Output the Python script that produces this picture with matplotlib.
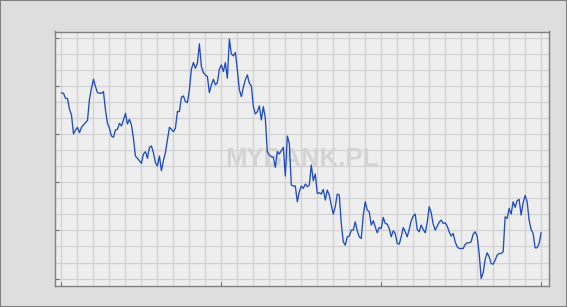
import numpy as np
import matplotlib
matplotlib.use("Agg")
import matplotlib.pyplot as plt
from matplotlib.patches import Rectangle

# notowania (jednostki umowne)
kurs = [
    611, 610, 595, 594, 562, 545, 488, 500, 508, 492,
    508, 515, 522, 528, 592, 625, 652, 630, 612, 610,
    610, 615, 560, 520, 505, 482, 478, 500, 502, 520,
    512, 530, 550, 518, 532, 515, 475, 422, 415, 408,
    400, 428, 435, 415, 448, 452, 432, 402, 392, 422,
    378, 408, 432, 470, 508, 502, 495, 505, 555, 555,
    598, 602, 585, 582, 620, 682, 702, 685, 700, 758,
    690, 672, 665, 660, 612, 635, 652, 635, 642, 682,
    695, 675, 702, 655, 772, 728, 722, 732, 680, 620,
    600, 628, 650, 665, 640, 632, 570, 548, 555, 572,
    530, 570, 535, 435, 425, 420, 418, 388, 435, 428,
    438, 448, 362, 482, 460, 335, 332, 332, 285, 315,
    332, 325, 338, 330, 335, 395, 348, 368, 310, 312,
    308, 322, 290, 320, 305, 275, 248, 270, 308, 305,
    220, 165, 155, 180, 182, 200, 200, 225, 198, 180,
    175, 245, 285, 260, 255, 215, 228, 210, 192, 208,
    205, 238, 220, 218, 205, 180, 198, 190, 160, 158,
    180, 208, 195, 180, 202, 228, 242, 248, 202, 195,
    215, 202, 192, 222, 270, 252, 218, 200, 212, 224,
    230, 220, 222, 212, 195, 182, 190, 165, 150, 145,
    145, 145, 157, 162, 162, 165, 188, 195, 182, 130,
    55, 72, 112, 132, 120, 100, 98, 110, 125, 130,
    130, 135, 240, 235, 265, 248, 285, 268, 288, 292,
    245, 282, 304, 285, 230, 202, 190, 147, 147, 160,
    192,
]
dni = np.arange(len(kurs))

xgrid = np.arange(0, 241, 8)
ygrid = np.arange(55, 800, 48)
xticks = [0, 80, 160, 240]
yticks = [55, 199, 343, 487, 631, 775]

fig = plt.figure(figsize=(5.67, 3.07), dpi=100)
fig.patch.set_facecolor("#dedede")
fig.patches.append(Rectangle((0, 0), 1, 1, transform=fig.transFigure,
                             fill=False, edgecolor="#808080", linewidth=1.5))

ax = fig.add_axes([54.5 / 567, 21.5 / 307, 494 / 567, 254 / 307])
ax.set_facecolor("#eeeeee")

for x in xgrid:
    ax.axvline(x, color="#d2d2d2", lw=0.9, zorder=1)
for y in ygrid:
    ax.axhline(y, color="#d2d2d2", lw=0.9, zorder=1)

ax.text(0.5, 0.5, "MYBANK.PL", transform=ax.transAxes, ha="center", va="center",
        fontsize=18.5, fontweight="bold", family="Liberation Sans",
        color="#d4d4d4", zorder=2)

ax.plot(dni, kurs, color="#1f4cc0", lw=0.95, zorder=3)

ax.set_xlim(-3.5, 243.7)
ax.set_ylim(34.1, 795)
ax.set_xticks(xticks)
ax.set_yticks(yticks)
ax.set_xticklabels([])
ax.set_yticklabels([])
ax.tick_params(direction="in", length=3, width=0.8, color="#707070")
ax.tick_params(axis="x", top=False)
ax.tick_params(axis="y", right=False)
for s in ax.spines.values():
    s.set_color("#808080")
    s.set_linewidth(1.0)

fig.savefig("out.png", dpi=100, facecolor=fig.get_facecolor())
